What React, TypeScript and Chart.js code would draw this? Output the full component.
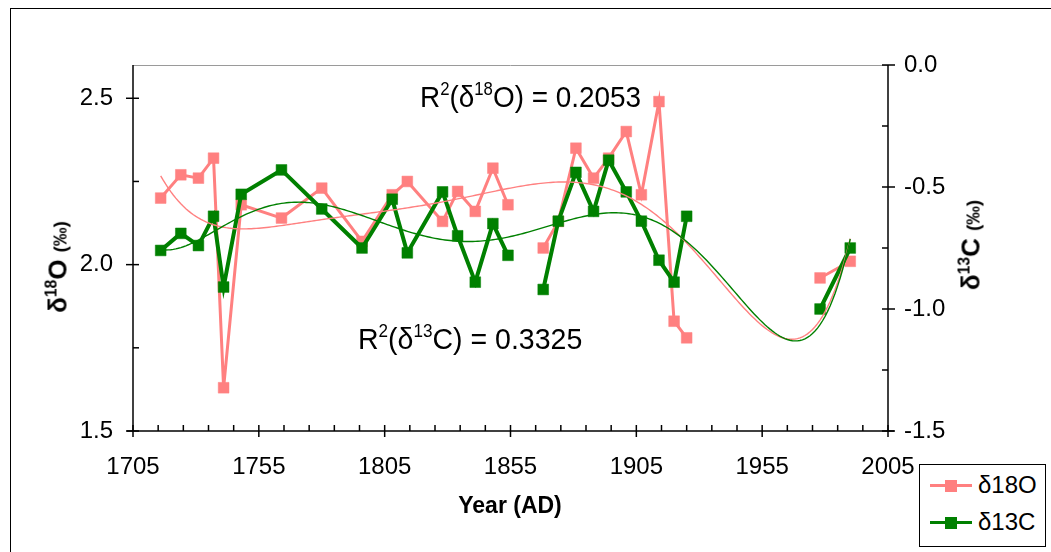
import React, { useEffect, useRef } from "react";
import { Chart, registerables } from "chart.js";

Chart.register(...registerables);

// Sample years (AD) and isotope measurements
const years = [1716, 1724, 1731, 1737, 1741, 1748, 1764, 1780, 1796, 1808, 1814, 1828, 1834, 1841, 1848, 1854, 1868, 1874, 1881, 1888, 1894, 1901, 1907, 1914, 1920, 1925, 1978, 1990];
const d18O = [2.2, 2.27, 2.26, 2.32, 1.63, 2.18, 2.14, 2.23, 2.07, 2.21, 2.25, 2.13, 2.22, 2.16, 2.29, 2.18, 2.05, 2.13, 2.35, 2.26, 2.32, 2.4, 2.21, 2.49, 1.83, 1.78, 1.96, 2.01];
const d13C = [-0.76, -0.69, -0.74, -0.62, -0.91, -0.53, -0.43, -0.59, -0.75, -0.55, -0.77, -0.52, -0.7, -0.89, -0.65, -0.78, -0.92, -0.64, -0.44, -0.6, -0.39, -0.52, -0.64, -0.8, -0.89, -0.62, -1.0, -0.75];
// breaks in the record where the series line is interrupted
const gapYears = [1861, 1950];

const xTicks = [1705, 1755, 1805, 1855, 1905, 1955, 2005];
const oTicks = [1.5, 2.0, 2.5];
const cTicks = [-1.5, -1.0, -0.5, 0.0];
const r2O = "0.2053";
const r2C = "0.3325";
const TREND_ORDER = 6;

const W = 1051;
const H = 552;
const AREA = { left: 133, top: 65, right: 888, bottom: 431 };
const PINK = "#ff8080";
const GREEN = "#008000";
const FONT = "'Liberation Sans', Arial, sans-serif";

function withGaps(vals: number[]) {
  const pts: { x: number; y: number | null }[] = years.map((x, i) => ({ x, y: vals[i] }));
  gapYears.forEach((g) => pts.push({ x: g, y: null }));
  return pts.sort((a, b) => a.x - b.x);
}

// least-squares polynomial trend (x centred and scaled for stability)
function polyTrend(xs: number[], ys: number[], deg: number) {
  const n = deg + 1;
  const ts = xs.map((x) => (x - 1850) / 100);
  const M: number[][] = [];
  for (let r = 0; r < n; r++) {
    const row: number[] = [];
    for (let c = 0; c < n; c++) row.push(ts.reduce((s, t) => s + Math.pow(t, r + c), 0));
    row.push(ts.reduce((s, t, i) => s + ys[i] * Math.pow(t, r), 0));
    M.push(row);
  }
  for (let i = 0; i < n; i++) {
    let p = i;
    for (let k = i + 1; k < n; k++) if (Math.abs(M[k][i]) > Math.abs(M[p][i])) p = k;
    const tmp = M[i];
    M[i] = M[p];
    M[p] = tmp;
    for (let k = i + 1; k < n; k++) {
      const f = M[k][i] / M[i][i];
      for (let c = i; c <= n; c++) M[k][c] -= f * M[i][c];
    }
  }
  const coef = new Array(n).fill(0);
  for (let i = n - 1; i >= 0; i--) {
    let s = M[i][n];
    for (let c = i + 1; c < n; c++) s -= M[i][c] * coef[c];
    coef[i] = s / M[i][i];
  }
  const f = (x: number) => {
    const t = (x - 1850) / 100;
    return coef.reduce((s, a, k) => s + a * Math.pow(t, k), 0);
  };
  const pts: { x: number; y: number }[] = [];
  for (let x = xs[0]; x <= xs[xs.length - 1]; x += 1) pts.push({ x, y: f(x) });
  return pts;
}

const axisMarks = {
  id: "axisMarks",
  afterDatasetsDraw(chart: any) {
    const { ctx, chartArea: a } = chart;
    const sx = chart.scales.x;
    const sl = chart.scales.y;
    const sr = chart.scales.y1;
    const seg = (x1: number, y1: number, x2: number, y2: number) => {
      ctx.beginPath();
      ctx.moveTo(x1, y1);
      ctx.lineTo(x2, y2);
      ctx.stroke();
    };
    ctx.save();
    ctx.lineWidth = 1;
    ctx.strokeStyle = "#9a9a9a";
    seg(a.left, a.top + 0.5, a.right, a.top + 0.5);
    ctx.strokeStyle = "#000";
    ctx.lineWidth = 1.5;
    seg(a.left, a.top, a.left, a.bottom);
    seg(a.right, a.top, a.right, a.bottom);
    seg(a.left - 6, a.bottom, a.right + 6, a.bottom);
    for (let v = xTicks[0]; v <= xTicks[xTicks.length - 1]; v += 10) {
      const px = sx.getPixelForValue(v);
      const major = xTicks.includes(v);
      seg(px, a.bottom - 6, px, a.bottom + (major ? 6 : 0));
    }
    for (let v = 1.5; v <= 2.6; v += 0.25) {
      const py = sl.getPixelForValue(v);
      const major = Math.abs((v * 2) % 1) < 1e-6;
      seg(a.left - (major ? 7 : 0), py, a.left + 6, py);
    }
    for (let v = -1.5; v <= 0.001; v += 0.25) {
      const py = sr.getPixelForValue(v);
      const major = Math.abs((v * 2) % 1) < 1e-6;
      seg(a.right - 6, py, a.right + (major ? 7 : 0), py);
    }
    ctx.restore();
  },
};

function IsoChart() {
  const ref = useRef<HTMLCanvasElement | null>(null);
  useEffect(() => {
    if (!ref.current) return;
    const tickFont = { family: FONT, size: 24 };
    const chart = new Chart(ref.current, {
      type: "line",
      data: {
        datasets: [
          {
            label: "δ13C trend",
            data: polyTrend(years, d13C, TREND_ORDER),
            yAxisID: "y1",
            borderColor: GREEN,
            borderWidth: 1.4,
            pointRadius: 0,
            tension: 0,
            order: 0,
          },
          {
            label: "δ18O trend",
            data: polyTrend(years, d18O, TREND_ORDER),
            yAxisID: "y",
            borderColor: PINK,
            borderWidth: 1.4,
            pointRadius: 0,
            tension: 0,
            order: 1,
          },
          {
            label: "δ13C",
            data: withGaps(d13C),
            yAxisID: "y1",
            borderColor: GREEN,
            backgroundColor: GREEN,
            borderWidth: 4,
            pointStyle: "rect",
            pointRadius: 7.6,
            pointBorderWidth: 0.5,
            pointBorderColor: GREEN,
            pointBackgroundColor: GREEN,
            spanGaps: false,
            tension: 0,
            order: 2,
          },
          {
            label: "δ18O",
            data: withGaps(d18O),
            yAxisID: "y",
            borderColor: PINK,
            backgroundColor: PINK,
            borderWidth: 3,
            pointStyle: "rect",
            pointRadius: 7.6,
            pointBorderWidth: 0.5,
            pointBorderColor: PINK,
            pointBackgroundColor: PINK,
            spanGaps: false,
            tension: 0,
            order: 3,
          },
        ],
      },
      options: {
        animation: false,
        responsive: false,
        maintainAspectRatio: false,
        layout: { padding: { top: AREA.top, left: 0, right: 0, bottom: 0 } },
        plugins: { legend: { display: false }, tooltip: { enabled: false } },
        scales: {
          x: {
            type: "linear",
            min: xTicks[0],
            max: xTicks[xTicks.length - 1],
            afterBuildTicks: (s: any) => {
              s.ticks = xTicks.map((v) => ({ value: v }));
            },
            afterFit: (s: any) => {
              s.height = H - AREA.bottom;
            },
            grid: { display: false, drawTicks: false },
            border: { display: false },
            ticks: {
              font: tickFont,
              color: "#000",
              padding: 22,
              maxRotation: 0,
              autoSkip: false,
              callback: (v: any) => String(v),
            },
          },
          y: {
            type: "linear",
            position: "left",
            min: 1.5,
            max: 2.6,
            afterBuildTicks: (s: any) => {
              s.ticks = oTicks.map((v) => ({ value: v }));
            },
            afterFit: (s: any) => {
              s.width = AREA.left;
            },
            grid: { display: false, drawTicks: false },
            border: { display: false },
            ticks: {
              font: tickFont,
              color: "#000",
              padding: 20,
              callback: (v: any) => Number(v).toFixed(1),
            },
          },
          y1: {
            type: "linear",
            position: "right",
            min: -1.5,
            max: 0,
            afterBuildTicks: (s: any) => {
              s.ticks = cTicks.map((v) => ({ value: v }));
            },
            afterFit: (s: any) => {
              s.width = W - AREA.right;
            },
            grid: { display: false, drawTicks: false },
            border: { display: false },
            ticks: {
              font: tickFont,
              color: "#000",
              padding: 16,
              callback: (v: any) => Number(v).toFixed(1),
            },
          },
        },
      },
      plugins: [axisMarks],
    } as any);
    return () => chart.destroy();
  }, []);
  return <canvas ref={ref} width={W} height={H} style={{ position: "absolute", left: 0, top: 0 }} />;
}

const abs = (o: React.CSSProperties): React.CSSProperties => ({ position: "absolute", whiteSpace: "nowrap", ...o });
const sup: React.CSSProperties = { fontSize: "0.6em", verticalAlign: "0.65em", lineHeight: 0 };

export default function App() {
  return (
    <div style={{ position: "fixed", left: 0, top: 0, width: W, height: H, background: "#fff", overflow: "hidden", fontFamily: FONT, color: "#000" }}>
      <div style={abs({ left: 10, top: 8, width: W + 20, height: H + 20, border: "1px solid #000" })} />
      <IsoChart />
      <div style={abs({ left: 420, top: 82, fontSize: 30, lineHeight: "30px", transform: "scaleX(0.93)", transformOrigin: "left" })}>
        R<span style={sup}>2</span>(δ<span style={sup}>18</span>O) = {r2O}
      </div>
      <div style={abs({ left: 358, top: 324, fontSize: 30, lineHeight: "30px", transform: "scaleX(0.95)", transformOrigin: "left" })}>
        R<span style={sup}>2</span>(δ<span style={sup}>13</span>C) = {r2C}
      </div>
      <div style={abs({ left: 58, top: 267, fontSize: 26, fontWeight: "bold", transform: "translate(-50%, -50%) rotate(-90deg)" })}>
        δ<span style={sup}>18</span>O <span style={{ fontSize: "0.72em" }}>(‰)</span>
      </div>
      <div style={abs({ left: 971, top: 245, fontSize: 26, fontWeight: "bold", transform: "translate(-50%, -50%) rotate(-90deg)" })}>
        δ<span style={sup}>13</span>C <span style={{ fontSize: "0.72em" }}>(‰)</span>
      </div>
      <div style={abs({ left: 510, top: 505, fontSize: 23, fontWeight: "bold", transform: "translate(-50%, -50%)" })}>Year (AD)</div>
      <div style={abs({ left: 919, top: 464, width: 127, height: 83, border: "1.5px solid #000", boxSizing: "border-box", background: "#fff" })} />
      <div style={abs({ left: 930, top: 484, width: 42, height: 3, background: PINK })} />
      <div style={abs({ left: 945, top: 480, width: 12, height: 12, background: PINK })} />
      <div style={abs({ left: 978, top: 471, fontSize: 24, lineHeight: "28px" })}>δ18O</div>
      <div style={abs({ left: 930, top: 521, width: 42, height: 3, background: GREEN })} />
      <div style={abs({ left: 945, top: 517, width: 12, height: 12, background: GREEN })} />
      <div style={abs({ left: 978, top: 508, fontSize: 24, lineHeight: "28px" })}>δ13C</div>
    </div>
  );
}
